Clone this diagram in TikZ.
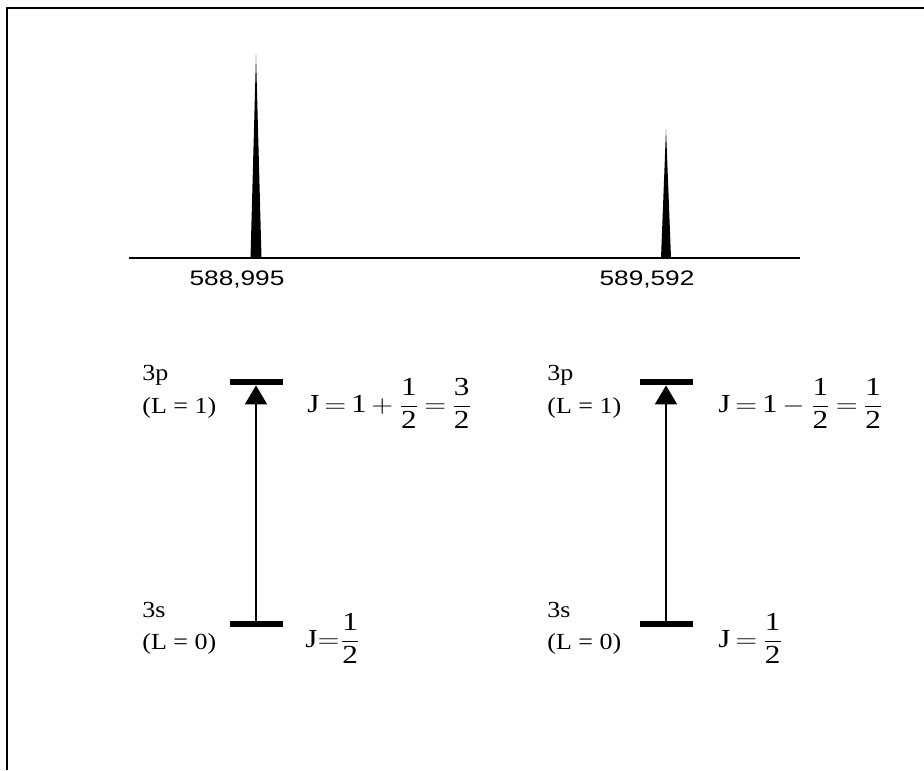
\documentclass[tikz,border=0pt]{standalone}
\usepackage{fontspec}
\setmainfont{Liberation Serif}
\newfontfamily\arialfont{Liberation Sans}
\usetikzlibrary{arrows.meta}
\newcommand{\wide}[2][1.25]{\scalebox{#1}[1]{#2}}
\newcommand{\dg}[1]{\mbox{#1}}
\thickmuskip=3mu\relax
\medmuskip=3mu\relax
\tikzset{
  frm/.style={line width=1pt},
  axs/.style={line width=1pt},
  pk/.style={fill=black},
  lvl/.style={fill=black, inner sep=0pt, minimum width=26.5pt, minimum height=3pt},
  exc/.style={-{Triangle[length=9.5pt,width=11pt]}, line width=1pt},
  wl/.style={font=\arialfont\fontsize{10.5}{12}\selectfont, inner sep=0pt},
  term/.style={font=\fontsize{11.5}{13}\selectfont, inner sep=0pt, anchor=base west},
  eq/.style={font=\fontsize{13}{15}\selectfont, inner sep=0pt, anchor=base west}
}

\begin{document}
\begin{tikzpicture}[x=0.5pt, y=-0.5pt]
	\useasboundingbox (0,0) rectangle (924,770);
	% frame, only its top and left edges are in view
	\draw[frm] (7,770) -- (7,8) -- (924,8);
	% spectrum
	\coordinate (ax0) at (129,258);
	\coordinate (ax1) at (800,258);
	\draw[axs] (ax0) -- (ax1);
	\fill[pk] (250.5,258) -- (256,55) -- (261.5,258) -- cycle;
	\fill[pk] (661,258) -- (666,129) -- (671,258) -- cycle;
	\node[wl] (wl1) at (237,280) {\wide{588,995}};
	\node[wl] (wl2) at (647,280) {\wide{589,592}};
	% levels, J = 3/2 line
	\node[lvl] (p1) at (256,382) {};
	\node[lvl] (s1) at (256,624) {};
	\draw[exc] (s1) -- (p1);
	\node[term] (p1t) at (142,380) {\wide[1.13]{3p}};
	\node[term] (p1l) at (142,413) {\wide[1.13]{(L = 1)}};
	\node[term] (s1t) at (142,617) {\wide[1.13]{3s}};
	\node[term] (s1l) at (142,649) {\wide[1.13]{(L = 0)}};
	\node[eq] (p1j) at (307,412) {\wide[1.2]{$\displaystyle \dg{J} = \dg{1} + \frac{\dg{1}}{\dg{2}} = \frac{\dg{3}}{\dg{2}}$}};
	\node[eq] (s1j) at (305,647) {\wide[1.2]{$\displaystyle \dg{J}{=}\frac{\dg{1}}{\dg{2}}$}};
	% levels, J = 1/2 line
	\node[lvl] (p2) at (666,382) {};
	\node[lvl] (s2) at (666,624) {};
	\draw[exc] (s2) -- (p2);
	\node[term] (p2t) at (547,380) {\wide[1.13]{3p}};
	\node[term] (p2l) at (547,413) {\wide[1.13]{(L = 1)}};
	\node[term] (s2t) at (547,617) {\wide[1.13]{3s}};
	\node[term] (s2l) at (547,649) {\wide[1.13]{(L = 0)}};
	\node[eq] (p2j) at (718,412) {\wide[1.2]{$\displaystyle \dg{J} = \dg{1} - \frac{\dg{1}}{\dg{2}} = \frac{\dg{1}}{\dg{2}}$}};
	\node[eq] (s2j) at (718,647) {\wide[1.2]{$\displaystyle \dg{J} = \frac{\dg{1}}{\dg{2}}$}};
\end{tikzpicture}
\end{document}
